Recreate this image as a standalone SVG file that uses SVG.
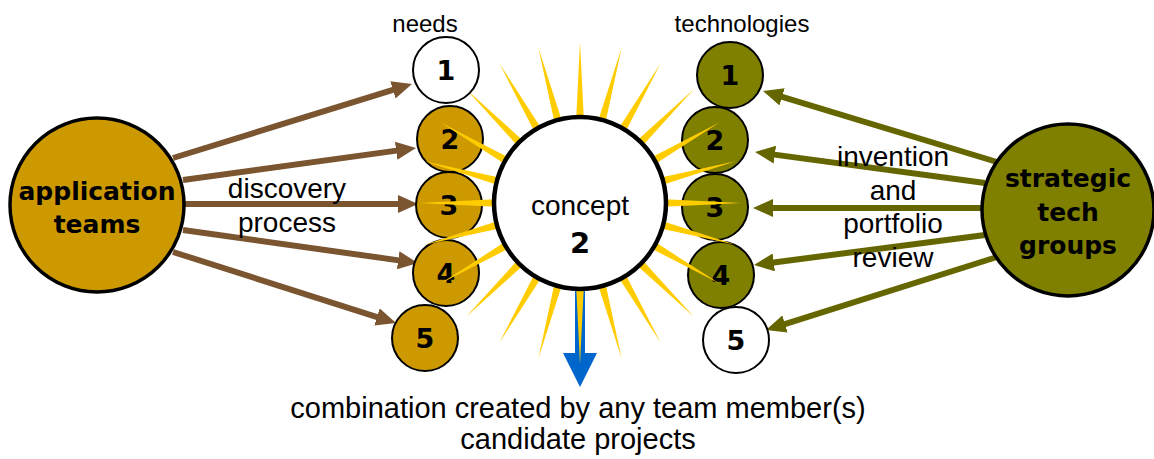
<svg xmlns="http://www.w3.org/2000/svg" xmlns:xlink="http://www.w3.org/1999/xlink" width="1154" height="459" viewBox="0 0 1154 459">
<style>
.t{font-family:"Liberation Sans",Arial,sans-serif;fill:#000}
.b{font-family:"DejaVu Sans",Verdana,sans-serif;font-weight:bold;fill:#000;text-anchor:middle}
.lbl{font-size:24px;text-anchor:middle}
.mid{font-size:28px;text-anchor:middle}
.bot{font-size:29px;text-anchor:middle}
.big{font-size:25px}
.num{font-size:27px}
.gold{fill:#cc9900;stroke:#000;stroke-width:2}
.olive{fill:#808000;stroke:#000;stroke-width:2}
.white{fill:#fff;stroke:#000;stroke-width:2}
.bigc{stroke-width:3.5}
.ab{stroke:#7a5530;stroke-width:6;fill:none;marker-end:url(#hb)}
.ao{stroke:#666600;stroke-width:6;fill:none;marker-end:url(#ho)}
.ray{fill:#ffcc00}
</style>
<defs>
<marker id="hb" markerUnits="userSpaceOnUse" markerWidth="20" markerHeight="18" refX="6" refY="9" orient="auto"><path d="M0,0 L20,9 L0,18 z" fill="#7a5530"/></marker>
<marker id="ho" markerUnits="userSpaceOnUse" markerWidth="20" markerHeight="18" refX="6" refY="9" orient="auto"><path d="M0,0 L20,9 L0,18 z" fill="#666600"/></marker>
<polygon id="ray" points="576,123 584,123 580,42"/>
</defs>
<g id="connectors">
<line class="ab" x1="173" y1="158" x2="398.6" y2="88.1"/>
<line class="ab" x1="183" y1="180" x2="402.1" y2="149.9"/>
<line class="ab" x1="185" y1="204" x2="404" y2="204"/>
<line class="ab" x1="183" y1="230" x2="404.1" y2="261.1"/>
<line class="ab" x1="173" y1="252" x2="382.7" y2="318.8"/>
<line class="ao" x1="997" y1="162" x2="776.4" y2="95.1"/>
<line class="ao" x1="985" y1="183" x2="768.9" y2="153.9"/>
<line class="ao" x1="985" y1="208" x2="767" y2="208"/>
<line class="ao" x1="985" y1="235" x2="767.9" y2="263.2"/>
<line class="ao" x1="997" y1="257" x2="779.3" y2="325.8"/>
<g id="output-arrow">
<rect x="575" y="288" width="10" height="66" fill="#0066cc"/>
<polygon points="563,353 597,353 580,387" fill="#0066cc"/>
</g>
</g>
<g id="app-teams"><circle class="gold bigc" cx="97" cy="205" r="87"/><text class="b big" x="97" y="200">application</text><text class="b big" x="97" y="233">teams</text></g>
<g id="strategic-tech"><circle class="olive bigc" cx="1068" cy="210" r="86"/><text class="b big" x="1068" y="187">strategic</text><text class="b big" x="1068" y="221">tech</text><text class="b big" x="1068" y="254">groups</text></g>
<g id="need-2"><circle class="gold" cx="450" cy="139" r="33"/><text class="b num" x="450" y="149">2</text></g>
<g id="need-3"><circle class="gold" cx="449" cy="205" r="33"/><text class="b num" x="449" y="215">3</text></g>
<g id="need-4"><circle class="gold" cx="446" cy="273" r="33"/><text class="b num" x="446" y="283">4</text></g>
<g id="tech-2"><circle class="olive" cx="715" cy="140" r="33"/><text class="b num" x="715" y="150">2</text></g>
<g id="tech-3"><circle class="olive" cx="715" cy="207" r="33"/><text class="b num" x="715" y="217">3</text></g>
<g id="tech-4"><circle class="olive" cx="721" cy="275" r="33"/><text class="b num" x="721" y="285">4</text></g>
<g id="rays" class="ray">
<use xlink:href="#ray"/>
<use xlink:href="#ray" transform="rotate(15 580 203)"/>
<use xlink:href="#ray" transform="rotate(30 580 203)"/>
<use xlink:href="#ray" transform="rotate(45 580 203)"/>
<use xlink:href="#ray" transform="rotate(60 580 203)"/>
<use xlink:href="#ray" transform="rotate(75 580 203)"/>
<use xlink:href="#ray" transform="rotate(90 580 203)"/>
<use xlink:href="#ray" transform="rotate(105 580 203)"/>
<use xlink:href="#ray" transform="rotate(120 580 203)"/>
<use xlink:href="#ray" transform="rotate(135 580 203)"/>
<use xlink:href="#ray" transform="rotate(150 580 203)"/>
<use xlink:href="#ray" transform="rotate(165 580 203)"/>
<use xlink:href="#ray" transform="rotate(180 580 203)"/>
<use xlink:href="#ray" transform="rotate(195 580 203)"/>
<use xlink:href="#ray" transform="rotate(210 580 203)"/>
<use xlink:href="#ray" transform="rotate(225 580 203)"/>
<use xlink:href="#ray" transform="rotate(240 580 203)"/>
<use xlink:href="#ray" transform="rotate(255 580 203)"/>
<use xlink:href="#ray" transform="rotate(270 580 203)"/>
<use xlink:href="#ray" transform="rotate(285 580 203)"/>
<use xlink:href="#ray" transform="rotate(300 580 203)"/>
<use xlink:href="#ray" transform="rotate(315 580 203)"/>
<use xlink:href="#ray" transform="rotate(330 580 203)"/>
<use xlink:href="#ray" transform="rotate(345 580 203)"/>
</g>
<g id="concept"><circle cx="580" cy="203" r="86" fill="#fff" stroke="#000" stroke-width="4.5"/><text class="t mid" x="580" y="215">concept</text><text class="b" x="580" y="253" style="font-size:29px">2</text></g>
<g id="need-1"><circle class="white" cx="446" cy="70" r="33"/><text class="b num" x="446" y="80">1</text></g>
<g id="need-5"><circle class="gold" cx="425" cy="338" r="33"/><text class="b num" x="425" y="348">5</text></g>
<g id="tech-1"><circle class="olive" cx="730" cy="75" r="33"/><text class="b num" x="730" y="85">1</text></g>
<g id="tech-5"><circle class="white" cx="736" cy="340" r="33"/><text class="b num" x="736" y="350">5</text></g>
<g id="labels">
<text class="t lbl" x="425" y="32">needs</text>
<text class="t lbl" x="742" y="32">technologies</text>
<text class="t mid" x="287" y="198">discovery</text>
<text class="t mid" x="287" y="232">process</text>
<text class="t mid" x="893" y="166">invention</text>
<text class="t mid" x="893" y="200">and</text>
<text class="t mid" x="893" y="233">portfolio</text>
<text class="t mid" x="893" y="267">review</text>
<text class="t bot" x="578" y="418">combination created by any team member(s)</text>
<text class="t bot" x="578" y="449">candidate projects</text>
</g>
</svg>
